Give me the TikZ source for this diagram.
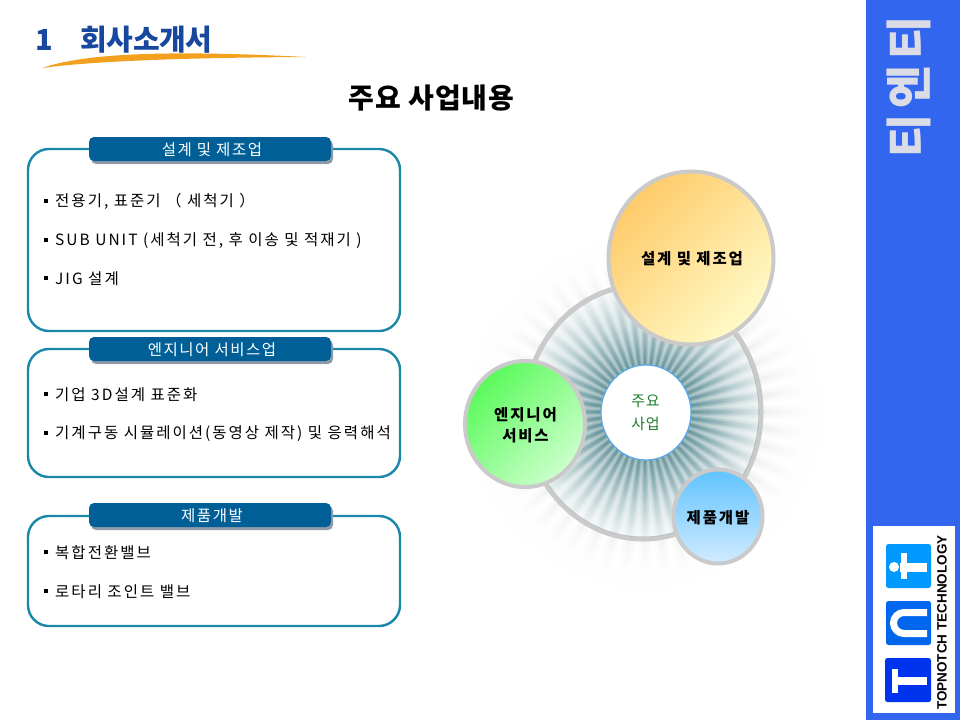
\documentclass[tikz,border=0pt]{standalone}
\usepackage{fontspec}
\setmainfont{Noto Sans CJK KR}
\newfontfamily\logofont{Liberation Sans}
\usetikzlibrary{fadings,shadings}
\definecolor{boxline}{HTML}{1A86A8}
\definecolor{tabfill}{HTML}{005F96}
\definecolor{tabshade}{HTML}{8E9AA8}
\definecolor{sidebar}{HTML}{3366EE}
\definecolor{sidetext}{HTML}{DCDCE6}
\definecolor{headblue}{HTML}{17479E}
\definecolor{swoosh}{HTML}{F2A01E}
\definecolor{raycol}{HTML}{3A767E}
\definecolor{raygray}{HTML}{C4C8C8}
\definecolor{ringgray}{HTML}{CACACA}
\definecolor{centergreen}{HTML}{1E7D2D}
\pgfdeclareradialshading{burstinmask}{\pgfpointorigin}{%
  color(0bp)=(white); color(16bp)=(white); color(18bp)=(black!8);
  color(24bp)=(black!36); color(32bp)=(black!66); color(42bp)=(black!88); color(50bp)=(black)}
\pgfdeclarefading{burstin}{\pgfuseshading{burstinmask}}
\pgfdeclareradialshading{burstoutmask}{\pgfpointorigin}{%
  color(0bp)=(black); color(30bp)=(black); color(32bp)=(black!68);
  color(38bp)=(black!85); color(44bp)=(black!97); color(50bp)=(black)}
\pgfdeclarefading{burstout}{\pgfuseshading{burstoutmask}}
\tikzset{
  x=1pt,y=-1pt,
  panel/.style={draw=boxline,line width=2.4pt,rounded corners=21pt,fill=white},
  tabshadow/.style={fill=tabshade,rounded corners=5pt},
  tabbox/.style={fill=tabfill,rounded corners=5pt},
  tabtext/.style={text=white,font=\fontsize{15.5}{17}\selectfont\addfontfeature{LetterSpace=10},inner sep=0pt},
  item/.style={anchor=west,inner sep=0pt,font=\fontsize{15.5}{17}\selectfont\addfontfeature{LetterSpace=13},text=black},
  bullet/.style={fill=black,minimum size=4pt,inner sep=0pt},
  bubble/.style={draw=ringgray,line width=4pt},
  bubtext/.style={font=\bfseries\fontsize{15.5}{21}\selectfont\addfontfeature{LetterSpace=12},align=center,inner sep=0pt,text=black},
  logotile/.style={rounded corners=2.5pt},
}
\begin{document}
\begin{tikzpicture}
\useasboundingbox (0,0) rectangle (960,720);
\fill[white] (0,0) rectangle (960,720);

% sidebar
\fill[sidebar] (866,0) rectangle (960,720);
\node[rotate=90,text=sidetext,inner sep=0pt,font=\bfseries\fontsize{47}{47}\selectfont\addfontfeature{LetterSpace=12}] (sidetitle) at (909,86.5) {티엔티};
\fill[white] (873,526) rectangle (955,713);
\fill[logotile,fill={rgb,255:red,0;green,153;blue,255}] (886,544) rectangle (931,588);
\fill[logotile,fill={rgb,255:red,0;green,102;blue,238}] (886,601) rectangle (931,645);
\fill[logotile,fill={rgb,255:red,0;green,51;blue,238}] (885,658) rectangle (931,702);
\fill[white] (894,567) circle[radius=5];
\fill[white] (900,563) rectangle (927,572);
\fill[white] (901,553) rectangle (907,579);
\draw[white,line width=7pt] (927,612.5) -- (904,612.5) arc[start angle=270,end angle=90,radius=10.5] -- (927,633.5);
\fill[white] (892,669) rectangle (898,693);
\fill[white] (898,677) rectangle (927,685);
\node[rotate=90,inner sep=0pt,text=black,font=\logofont\bfseries\fontsize{13.5}{15}\selectfont] (logotext) at (942,622.5) {TOPNOTCH TECHNOLOGY};

% heading
\fill[swoosh] (42,68) .. controls (85,53) and (170,50) .. (306,57) .. controls (210,57.5) and (100,60) .. (42,68) -- cycle;
\node[inner sep=0pt,text=headblue,font=\bfseries\fontsize{29}{30}\selectfont] (secnum) at (44,40) {1};
\node[inner sep=0pt,text=headblue,font=\bfseries\fontsize{29}{30}\selectfont\addfontfeature{LetterSpace=-1}] (sectitle) at (146.5,40) {회사소개서};
\node[inner sep=0pt,text=black,font=\bfseries\fontsize{28}{30}\selectfont\addfontfeature{LetterSpace=3}] (maintitle) at (431.5,98) {주요 사업내용};

% panels
\draw[panel] (28,149) rectangle (400,331);
\fill[tabshadow] (91,140) rectangle (333,164);
\fill[tabbox] (89,137) rectangle (331,161);
\node[tabtext] (tab1) at (212,149.5) {설계 및 제조업};
\node[bullet] (b11) at (46,201) {};
\node[item] (t11) at (55,201.5) {전용기, 표준기 （ 세척기 ）};
\node[bullet] (b12) at (46,240) {};
\node[item] (t12) at (55,240.5) {SUB UNIT (세척기 전, 후 이송 및 적재기 )};
\node[bullet] (b13) at (46,278) {};
\node[item] (t13) at (55,278.5) {JIG  설계};

\draw[panel] (28,349) rectangle (400,477);
\fill[tabshadow] (91,340) rectangle (333,364);
\fill[tabbox] (89,337) rectangle (331,361);
\node[tabtext] (tab2) at (212,349.5) {엔지니어 서비스업};
\node[bullet] (b21) at (46,394) {};
\node[item] (t21) at (55,394.5) {기업 3D설계 표준화};
\node[bullet] (b22) at (46,433) {};
\node[item] (t22) at (55,433.5) {기계구동 시뮬레이션(동영상 제작) 및 응력해석};

\draw[panel] (28,516) rectangle (400,626);
\fill[tabshadow] (91,506) rectangle (333,530);
\fill[tabbox] (89,503) rectangle (331,527);
\node[tabtext] (tab3) at (212,515.5) {제품개발};
\node[bullet] (b31) at (46,552) {};
\node[item] (t31) at (55,552.5) {복합전환밸브};
\node[bullet] (b32) at (46,591) {};
\node[item] (t32) at (55,591.5) {로타리 조인트 밸브};

% outer rays
\begin{scope}[transparency group]
  \path[scope fading=burstout,fit fading=false,fading transform={shift={(645,412)},scale=3.6}] (430,170) rectangle (860,660);
  \foreach \a in {0,7.5,...,352.5}{
    \foreach \w/\o in {3.2/0.25,2.1/0.3,1.0/0.4}{
      \fill[raygray,opacity=\o] (645,412) -- ({645+180*cos(\a-\w)},{412+190*sin(\a-\w)}) -- ({645+180*cos(\a+\w)},{412+190*sin(\a+\w)}) -- cycle;
    }
  }
\end{scope}

% ring with inner rays
\draw[ringgray,line width=5pt,fill=white] (643,412) ellipse[x radius=118,y radius=127];
\begin{scope}
  \clip (643,412) ellipse[x radius=116,y radius=125];
  \begin{scope}[transparency group]
    \path[scope fading=burstin,fit fading=false,fading transform={shift={(645,412)},scale=2.8}] (500,260) rectangle (790,560);
    \fill[raycol,opacity=0.4] (645,412) circle[radius=140];
    \foreach \a in {0,7.5,...,352.5}{
      \foreach \w/\o in {3.5/0.18,2.4/0.26,1.3/0.36}{
        \fill[raycol,opacity=\o] (645,412) -- ({645+150*cos(\a-\w)},{412+160*sin(\a-\w)}) -- ({645+150*cos(\a+\w)},{412+160*sin(\a+\w)}) -- cycle;
      }
    }
  \end{scope}
\end{scope}

% bubbles
\draw[draw={rgb,255:red,90;green,170;blue,235},line width=1.2pt,fill=white] (646,412.5) ellipse[x radius=45,y radius=47.5];
\node[inner sep=0pt,align=center,text=centergreen,font=\fontsize{15}{22.5}\selectfont\addfontfeature{LetterSpace=5}] (core) at (645.5,413) {주요\\사업};

\shade[top color={rgb,255:red,255;green,203;blue,105},bottom color={rgb,255:red,255;green,250;blue,200},shading angle=45] (691,258) ellipse[x radius=82.5,y radius=86.5];
\draw[bubble] (691,258) ellipse[x radius=82.5,y radius=86.5];
\node[bubtext] (gold) at (692,258.5) {설계 및 제조업};

\shade[top color={rgb,255:red,90;green,250;blue,90},bottom color={rgb,255:red,205;green,255;blue,205},shading angle=45] (525,424) ellipse[x radius=60,y radius=63];
\draw[bubble] (525,424) ellipse[x radius=60,y radius=63];
\node[bubtext] (green) at (525.5,425.5) {엔지니어\\서비스};

\shade[top color={rgb,255:red,95;green,195;blue,255},bottom color={rgb,255:red,210;green,235;blue,255}] (718,516.5) ellipse[x radius=44.5,y radius=47];
\draw[bubble] (718,516.5) ellipse[x radius=44.5,y radius=47];
\node[bubtext] (blue) at (718,517.5) {제품개발};
\end{tikzpicture}
\end{document}
